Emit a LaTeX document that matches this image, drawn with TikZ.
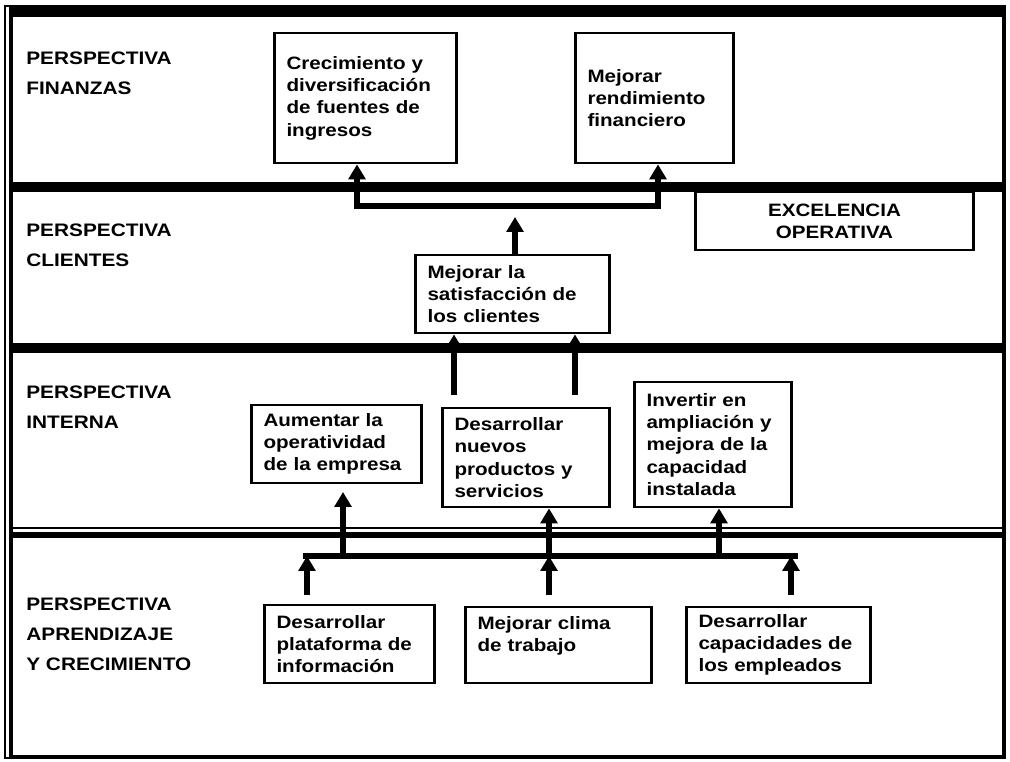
\documentclass[tikz,border=0pt]{standalone}
\usepackage{fontspec}
\setmainfont{Liberation Sans}[FakeStretch=1.15]
\usetikzlibrary{arrows.meta}

\tikzset{
  box/.style={draw,line width=1.6pt,align=left,inner xsep=7pt,
    font=\bfseries\fontsize{10.2}{12.7}\selectfont},
  lbl/.style={anchor=west,align=left,inner sep=0pt,
    font=\bfseries\fontsize{10.3}{17}\selectfont},
  flow/.style={line width=3.4pt,->},
  bus/.style={line width=3.4pt},
}

\begin{document}
\begin{tikzpicture}[x=0.02cm,y=-0.02cm,>={Triangle[length=8.5pt,width=9.5pt]}]
\useasboundingbox (0,0) rectangle (1010,761);
% frame and bands
\draw[line width=0.8pt] (5,6) rectangle (1005,758);
\draw[line width=2pt] (11,7) -- (11,757);
\draw[line width=1.5pt] (1003,7) -- (1003,757);
\fill (11,7) rectangle (1005,17);
\fill (11,182) rectangle (1005,192);
\fill (11,343) rectangle (1005,353);
\draw[line width=0.8pt] (11,528) -- (1005,528);
\fill (11,532) rectangle (1005,538);
\draw[line width=1.5pt] (11,756) -- (1005,756);

% perspectives
\node[lbl] (pfin) at (26,73) {PERSPECTIVA\\FINANZAS};
\node[lbl] (pcli) at (26,245) {PERSPECTIVA\\CLIENTES};
\node[lbl] (pint) at (26,407) {PERSPECTIVA\\INTERNA};
\node[lbl] (papr) at (26,634) {PERSPECTIVA\\APRENDIZAJE\\Y CRECIMIENTO};

% objectives
\node[box,text width=3.16cm,minimum height=2.6cm] (fin1) at (365.5,98)
  {Crecimiento y\\diversificación\\de fuentes de\\ingresos};
\node[box,text width=2.68cm,minimum height=2.6cm] (fin2) at (654.5,98)
  {Mejorar\\rendimiento\\financiero};
\node[box,text width=5.08cm,minimum height=1.16cm,align=center] (exc) at (834.5,221)
  {EXCELENCIA\\OPERATIVA};
\node[box,text width=3.4cm,minimum height=1.56cm] (cli) at (512.5,294)
  {Mejorar la\\satisfacción de\\los clientes};
\node[box,text width=2.92cm,minimum height=1.56cm] (int1) at (336.5,444)
  {Aumentar la\\operatividad\\de la empresa};
\node[box,text width=2.86cm,minimum height=1.98cm] (int2) at (526,457.5)
  {Desarrollar\\nuevos\\productos y\\servicios};
\node[box,text width=2.66cm,minimum height=2.5cm] (int3) at (713,444.5)
  {Invertir en\\ampliación y\\mejora de la\\capacidad\\instalada};
\node[box,text width=2.92cm,minimum height=1.56cm] (apr1) at (349.5,644)
  {Desarrollar\\plataforma de\\información};
\node[box,text width=3.24cm,minimum height=1.52cm] (apr2) at (558.5,645)
  {Mejorar clima\\de trabajo\\\mbox{}};
\node[box,text width=3.2cm,minimum height=1.52cm] (apr3) at (778.5,645)
  {Desarrollar\\capacidades de\\los empleados};

% finanzas links
\coordinate (bf1) at (357,206);
\coordinate (bf2) at (658,206);
\draw[bus,<->,line join=miter] (bf1 |- fin1.south) -- (bf1) -- (bf2) -- (bf2 |- fin2.south);
\coordinate (cf) at (515,217);
\draw[flow] (cli.north -| cf) -- (cf);

% clientes links
\coordinate (ci1) at (454,395);
\coordinate (ci2) at (575,395);
\draw[flow] (ci1) -- (ci1 |- cli.south);
\draw[flow] (ci2) -- (ci2 |- cli.south);

% aprendizaje bus
\coordinate (ba1) at (303,556);
\coordinate (ba2) at (798,556);
\draw[bus] (ba1) -- (ba2);
\coordinate (bu1) at (343,556);
\coordinate (bu2) at (549,556);
\coordinate (bu3) at (719,556);
\coordinate (tu1) at (343,492);
\draw[flow] (bu1) -- (tu1);
\draw[flow] (bu2) -- (bu2 |- int2.south);
\draw[flow] (bu3) -- (bu3 |- int3.south);
\coordinate (lo1) at (307,595);
\coordinate (lo2) at (549,595);
\coordinate (lo3) at (791,595);
\draw[flow] (lo1) -- (lo1 |- ba1);
\draw[flow] (lo2) -- (lo2 |- ba1);
\draw[flow] (lo3) -- (lo3 |- ba1);
\end{tikzpicture}
\end{document}
